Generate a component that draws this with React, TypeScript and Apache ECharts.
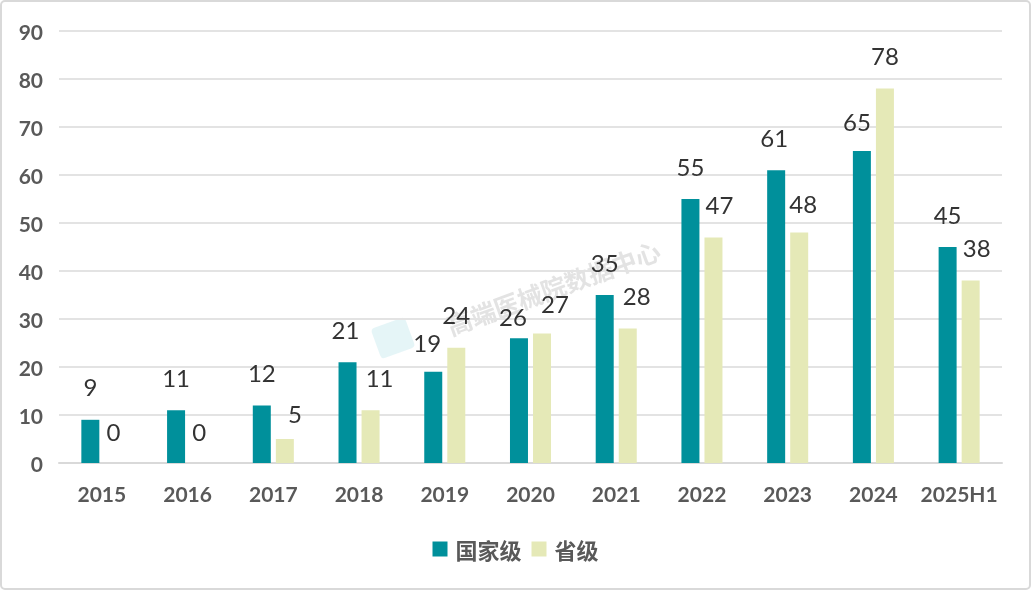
import React, { useEffect, useRef } from "react";
import * as echarts from "echarts";

const categories = ["2015", "2016", "2017", "2018", "2019", "2020", "2021", "2022", "2023", "2024", "2025H1"];
const nationalValues = [9, 11, 12, 21, 19, 26, 35, 55, 61, 65, 45];
const provincialValues = [0, 0, 5, 11, 24, 27, 28, 47, 48, 78, 38];
const seriesNames = ["国家级", "省级"];
const yTicks = { min: 0, max: 90, interval: 10 };
const watermarkText = "高端医械院数据中心";

// label nudges (layout only), [dx, dy] in pixels
const nationalLabelNudge = [[0, 0], [0, 0], [0, 0], [-2, 0], [-6, 4], [-6, 11], [0, 0], [0, 0], [-2, 0], [-5, 3], [0, 0]];
const provincialLabelNudge = [[0, 1], [0, 1], [10, 7], [9, 0], [0, 0], [13, 3], [9, 0], [6, 0], [4, 4], [0, 0], [6, 0]];

export default function App() {
  const ref = useRef<HTMLDivElement>(null);
  useEffect(() => {
    document.body.style.margin = "0";
    const chart = echarts.init(ref.current!, undefined, { renderer: "svg" });
    const labelStyle = {
      show: true,
      position: "top" as const,
      distance: 21,
      fontSize: 24,
      color: "#333333",
      fontFamily: "Lato",
    };
    const withNudge = (vals: number[], nudges: number[][]) =>
      vals.map((v, i) => ({ value: v, label: { offset: nudges[i] } }));
    chart.setOption({
      animation: false,
      grid: { left: 59, right: 29, top: 31, bottom: 128, containLabel: false },
      legend: {
        bottom: 26,
        left: "center",
        itemWidth: 15,
        itemHeight: 15,
        itemGap: 10,
        icon: "rect",
        textStyle: { fontSize: 22, color: "#595959", fontWeight: "bold", fontFamily: "Noto Sans CJK SC", padding: [0, 0, 0, 3] },
        data: seriesNames,
      },
      xAxis: {
        type: "category",
        data: categories,
        axisLine: { lineStyle: { color: "#d9d9d9", width: 2 } },
        axisTick: { show: false },
        axisLabel: { interval: 0, fontSize: 21, color: "#595959", fontWeight: "bold", fontFamily: "Lato", margin: 20 },
      },
      yAxis: {
        type: "value",
        min: yTicks.min,
        max: yTicks.max,
        interval: yTicks.interval,
        axisLine: { show: false },
        axisTick: { show: false },
        splitLine: { lineStyle: { color: "#e3e3e3", width: 2 } },
        axisLabel: { fontSize: 21, color: "#595959", fontWeight: "bold", fontFamily: "Lato", margin: 16 },
      },
      graphic: [
        {
          type: "rect",
          z: -10,
          shape: { x: 1, y: 1, width: 1029, height: 588, r: 4 },
          style: { fill: "none", stroke: "#d9d9d9", lineWidth: 2 },
        },
        {
          type: "rect",
          z: -5,
          x: 393,
          y: 338,
          rotation: 0.35,
          shape: { x: -18, y: -16, width: 36, height: 32, r: 4 },
          style: { fill: "rgba(170,222,228,0.3)" },
        },
        {
          type: "text",
          z: -5,
          x: 553,
          y: 287,
          rotation: 0.35,
          style: {
            text: watermarkText,
            fontSize: 25,
            fontWeight: "bold",
            fontFamily: "Noto Sans CJK SC",
            fill: "rgba(185,185,185,0.4)",
            align: "center",
            verticalAlign: "middle",
          },
        },
      ],
      series: [
        {
          name: seriesNames[0],
          type: "bar",
          data: withNudge(nationalValues, nationalLabelNudge),
          barWidth: 18,
          barGap: "28%",
          itemStyle: { color: "#00909b" },
          label: labelStyle,
        },
        {
          name: seriesNames[1],
          type: "bar",
          data: withNudge(provincialValues, provincialLabelNudge),
          barWidth: 18,
          itemStyle: { color: "#e5e9b7" },
          label: labelStyle,
        },
      ],
    });
    return () => chart.dispose();
  }, []);
  return <div ref={ref} style={{ position: "fixed", left: 0, top: 0, width: 1031, height: 591 }} />;
}
